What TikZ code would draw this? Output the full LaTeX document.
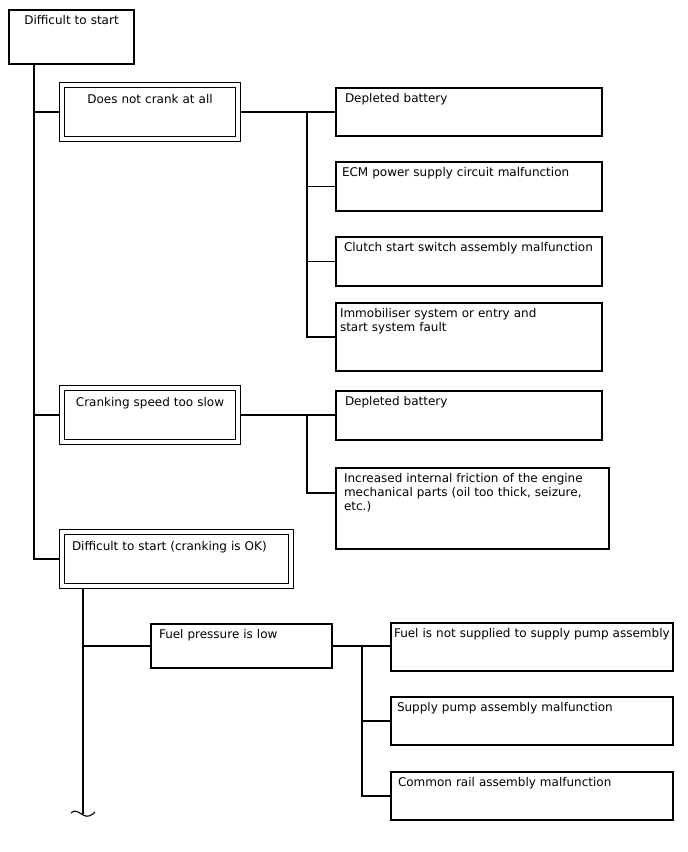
\documentclass[tikz,border=0pt]{standalone}
\usepackage{fontspec}
\setmainfont{DejaVu Sans}
\usetikzlibrary{positioning,calc}

\begin{document}
\begin{tikzpicture}[
    x=1pt, y=-1pt,
    line width=1.1pt,
    cause/.style={rectangle, draw, anchor=north west, outer sep=0pt, inner xsep=6pt, inner ysep=4pt, text height=10pt, align=left, font=\fontsize{12}{14}\selectfont},
    symptom/.style={cause, double, double distance=4pt, outer sep=3pt, inner ysep=8pt, align=center},
    link/.style={draw}
]
\useasboundingbox (0,0) rectangle (688,852);

% main symptom and its three kinds
\node[cause, align=center, text width=113pt, text depth=36pt] (root) at (9,10) {Difficult to start};
\node[symptom, text width=164pt, text depth=28pt] (nocrank) at (59,82) {Does not crank at all};
\node[symptom, text width=164pt, text depth=28pt] (slowcrank) at (59,385) {Cranking speed too slow};
\node[symptom, align=left, inner xsep=10pt, text width=209pt, text depth=28pt] (okcrank) at (59,529) {Difficult to start (cranking is OK)};

% causes
\node[cause, inner xsep=9pt, text width=248pt, text depth=30pt] (batt1) at (336,88) {Depleted battery};
\node[cause, text width=254pt, text depth=31pt] (ecm) at (336,162) {ECM power supply circuit malfunction};
\node[cause, inner xsep=8pt, text width=250pt, text depth=31pt] (clutch) at (336,237) {Clutch start switch assembly malfunction};
\node[cause, inner xsep=4pt, text width=258pt, text depth=50pt] (immob) at (336,303) {Immobiliser system or entry and\\start system fault};
\node[cause, inner xsep=9pt, text width=248pt, text depth=31pt] (batt2) at (336,391) {Depleted battery};
\node[cause, inner xsep=8pt, text width=257pt, text depth=63pt] (friction) at (336,468) {Increased internal friction of the engine\\mechanical parts (oil too thick, seizure,\\etc.)};

\node[cause, inner xsep=8pt, text width=165pt, text depth=26pt] (fuelp) at (151,624) {Fuel pressure is low};
\node[cause, inner xsep=3pt, text width=276pt, text depth=30pt] (nosupply) at (391,623) {Fuel is not supplied to supply pump assembly};
\node[cause, text width=270pt, text depth=30pt] (pump) at (391,697) {Supply pump assembly malfunction};
\node[cause, inner xsep=7pt, text width=268pt, text depth=30pt] (rail) at (391,772) {Common rail assembly malfunction};

% tree lines
\coordinate (trunk) at (34,64);
\draw[link] (trunk) |- (okcrank.west);
\draw[link] (trunk |- nocrank.west) -- (nocrank.west);
\draw[link] (trunk |- slowcrank.west) -- (slowcrank.west);

\coordinate (busA) at (307,112);
\draw[link] (nocrank.east) -- (nocrank.east -| batt1.west);
\draw[link] (busA) |- (immob.west);
\draw[link] (busA |- ecm.west) -- (ecm.west);
\draw[link] (busA |- clutch.west) -- (clutch.west);

\coordinate (busB) at (307,415);
\coordinate (frictionin) at ($(friction.north west)+(0,25)$);
\draw[link] (slowcrank.east) -- (slowcrank.east -| batt2.west);
\draw[link] (busB) |- (frictionin);

\coordinate (fueltrunk) at (83,589);
\coordinate (cut) at (83,814);
\draw[link] (fueltrunk) -- (cut);
\draw[link] (fueltrunk |- fuelp.west) -- (fuelp.west);
\draw (71,813) .. controls (75,809) and (78,812) .. (83,815) .. controls (88,818) and (92,815) .. (95,812);

\coordinate (busC) at (362,646);
\draw[link] (fuelp.east) -- (fuelp.east -| nosupply.west);
\draw[link] (busC) |- (rail.west);
\draw[link] (busC |- pump.west) -- (pump.west);
\end{tikzpicture}
\end{document}
